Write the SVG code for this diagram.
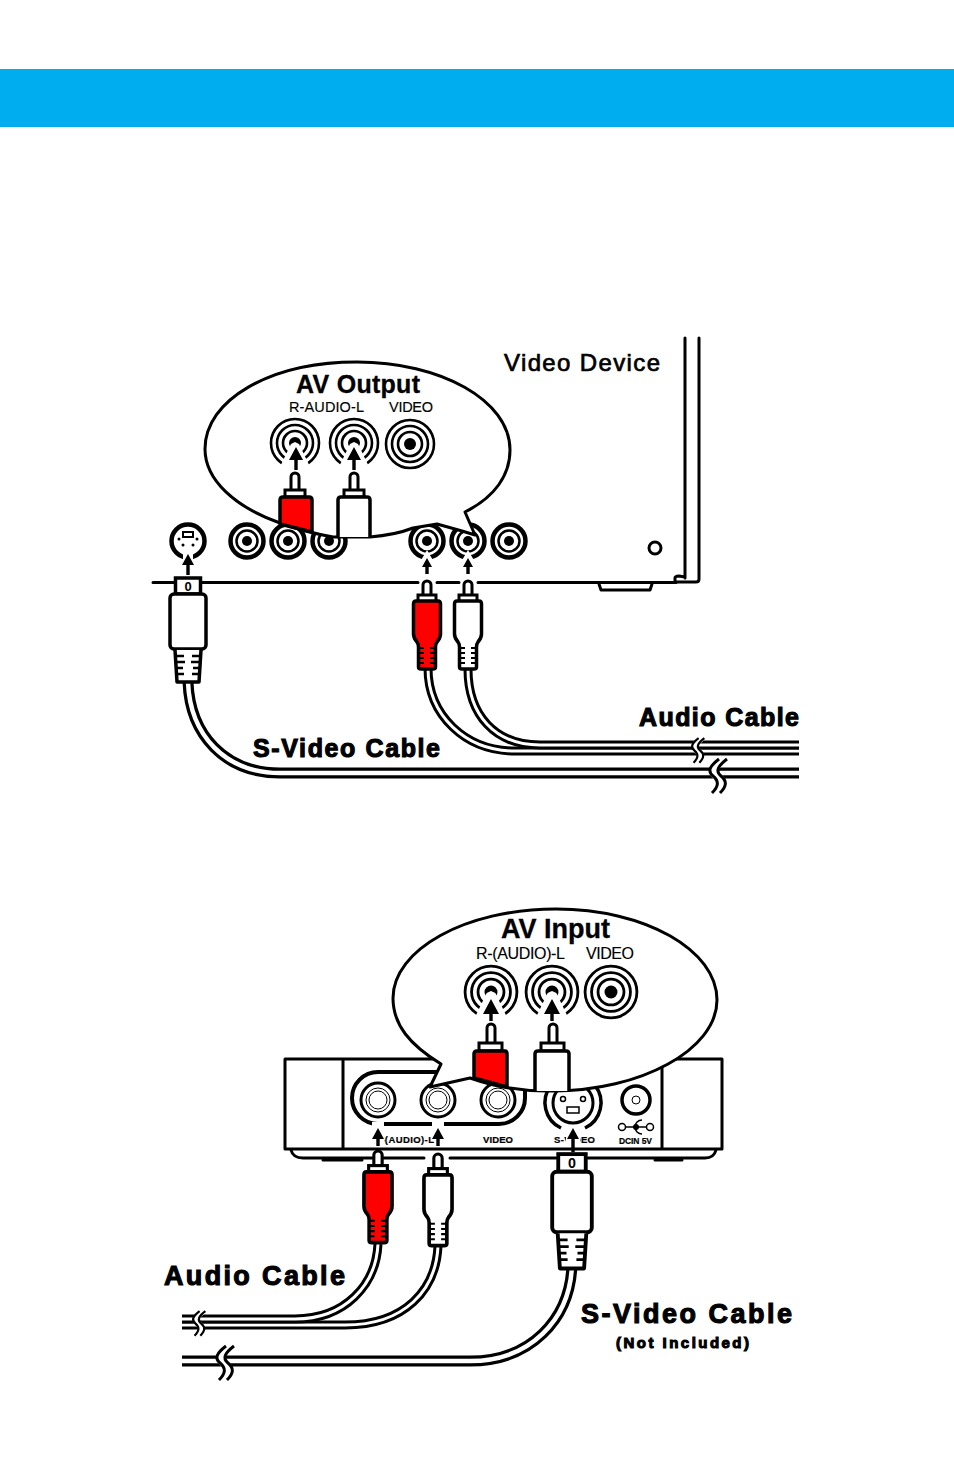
<svg xmlns="http://www.w3.org/2000/svg" xmlns:xlink="http://www.w3.org/1999/xlink" width="954" height="1474" viewBox="0 0 954 1474">
<style>
text{font-family:"Liberation Sans",Arial,sans-serif;fill:#000}
.heavy{font-weight:bold;stroke:#000;stroke-width:1.1px}
.title{font-weight:bold;stroke:#000;stroke-width:.3px}
.name{stroke:#000;stroke-width:.7px}
.port{stroke:#000;stroke-width:.15px}
.mini{font-weight:bold;font-size:9.500px;stroke:#000;stroke-width:.2px}
.ln{fill:none;stroke:#000;stroke-width:3;stroke-linecap:round;stroke-linejoin:round}
.cable-o{fill:none;stroke:#000}
.cable-i{fill:none;stroke:#fff}
.bubble{fill:#fff;stroke:#000;stroke-width:3;stroke-linejoin:round}
.ring{fill:none;stroke:#000}
.arrow{fill:none;stroke:#000;stroke-width:3.400}
.arrowhead{fill:#000}
.red{fill:#f00}
.white{fill:#fff}
</style>
<defs>
<!-- RCA plug, tip at the origin -->
<g id="rca">
<path d="M-4,15V5a4,4 0 0 1 8,0V15" fill="#fff" stroke="#000" stroke-width="3"/>
<rect x="-9" y="15" width="18" height="7" fill="#fff" stroke="#000" stroke-width="3"/>
<path d="M-11,21H11Q13.500,21 13.500,24V54Q13.500,58 10,62Q8.500,64 8.500,67V87Q8.500,89 6,89H-6Q-8.500,89 -8.500,87V67Q-8.500,64 -10,62Q-13.500,58 -13.500,54V24Q-13.500,21 -11,21Z" stroke="#000" stroke-width="3.500" stroke-linejoin="round"/>
<path d="M-8,68H-3M3,68H8M-8,73H-3M3,73H8M-8,78H-3M3,78H8M-8,83H-3M3,83H8" stroke="#000" stroke-width="2"/>
</g>
<!-- S-Video plug, top centre at the origin -->
<g id="svplug">
<rect x="-12.500" y="1" width="25" height="16" fill="#fff" stroke="#000" stroke-width="3.500"/>
<text x="0" y="14" text-anchor="middle" font-size="13" font-weight="bold">0</text>
<rect x="-18" y="17" width="36" height="55" rx="4" fill="#fff" stroke="#000" stroke-width="3.500"/>
<path d="M-13,73L-11,105H11L13,73" fill="#fff" stroke="#000" stroke-width="3.500" stroke-linejoin="round"/>
<path d="M-12,79H-4M4,79H12M-12,85H-3M3,85H12M-12,91H-5M5,91H12M-11,97H-4M4,97H11" stroke="#000" stroke-width="2.500"/>
</g>
<!-- Cable break mark -->
<g id="break">
<path d="M9,-15C0,-8 -3,-3 3,2C9,7 9,12 2,19" fill="none" stroke="#fff" stroke-width="9"/>
<path d="M5,-15C-4,-8 -7,-3 -1,2C5,7 5,12 -2,19M13,-15C4,-8 1,-3 7,2C13,7 13,12 6,19" fill="none" stroke="#000" stroke-width="3"/>
</g>
<!-- Jack on the panel, full rings -->
<g id="jack">
<circle r="16.500" class="ring" stroke-width="4.500"/>
<circle r="10.500" class="ring" stroke-width="2.500"/>
<circle r="5" fill="#000"/>
</g>
<!-- Enlarged jack, plain -->
<g id="bigjack">
<circle r="24" class="ring" stroke-width="2.600"/>
<circle r="18" class="ring" stroke-width="2.600"/>
<circle r="12" class="ring" stroke-width="2.600"/>
<circle r="6" fill="#000"/>
</g>
<!-- Enlarged jack with an opening for the arrow -->
<g id="bigjack-open">
<use xlink:href="#bigjack"/>
<path d="M0,-1L-4,1L-18,30H18L4,1Z" fill="#fff"/>
</g>
</defs>

<rect width="954" height="1474" fill="#fff"/>
<rect id="banner" x="0" y="69" width="954" height="58" fill="#00aeef"/>

<g id="video-device">
<path class="ln" d="M685,338V578M699,338V579Q699,582 696,582H675V578Q675,576 679,576L685,577"/>
<path class="ln" d="M153,582.500H174M201,582.500H418M437,582.500H459M478,582.500H676"/>
<path class="ln" stroke-width="2.500" d="M599,584L601,590H650L652,584"/>
<circle cx="655" cy="548" r="6" fill="#fff" stroke="#000" stroke-width="3"/>
<text class="name" x="504" y="371" font-size="24" textLength="156">Video Device</text>
</g>
<g id="device-jacks">
<g id="svideo-out" transform="translate(188,541)">
<circle r="16.500" class="ring" stroke-width="4.500"/>
<rect x="-5" y="-9" width="10" height="5" fill="none" stroke="#000" stroke-width="2"/>
<circle cx="-9" cy="-2" r="1.500"/><circle cx="9" cy="-2" r="1.500"/><circle cx="-5" cy="4" r="1.500"/><circle cx="5" cy="4" r="1.500"/>
<rect x="-5" y="10" width="10" height="10" fill="#fff"/>
</g>
<use xlink:href="#jack" x="247" y="541"/>
<use xlink:href="#jack" x="288" y="541"/>
<use xlink:href="#jack" x="329" y="541"/>
<use xlink:href="#jack" x="427" y="541"/>
<use xlink:href="#jack" x="468" y="541"/>
<use xlink:href="#jack" x="509" y="541"/>
<path d="M420,562L427,550L434,562ZM461,562L468,550L475,562Z" fill="#fff"/>
</g>

<g id="av-output">
<path class="bubble" d="M280,523C235,507 205,480 205,449C205,400 270,362 357,362C440,362 510,400 510,450C510,475 495,497 465,512L475,535L462,531L437,524L413,528Q395,535 370,537L333,537Q305,532 280,523Z"/>
<text class="title" x="296" y="393" font-size="25" textLength="124">AV Output</text>
<text class="port" x="289" y="412" font-size="14.500" textLength="75">R-AUDIO-L</text>
<text class="port" x="389" y="412" font-size="14.500" textLength="44">VIDEO</text>
<use xlink:href="#bigjack-open" x="295" y="443"/>
<use xlink:href="#bigjack-open" x="354" y="443"/>
<use xlink:href="#bigjack" x="410" y="444"/>
</g>

<g id="panel">
<path class="ln" d="M285,1059H722V1149H285ZM343,1059V1149M662,1059V1149"/>
<path class="ln" d="M291,1150Q293,1158 303,1158H372M384,1158H424M450,1158H556M588,1158H705Q714,1158 716,1150"/>
<path class="ln" d="M323,1160H362M655,1160H682"/>
<path d="M525,1085V1098A26,26 0 0 1 499,1124H378A26,26 0 0 1 378,1072H440" fill="none" stroke="#000" stroke-width="4"/>
<g fill="none" stroke="#000">
<circle cx="378" cy="1100" r="17" stroke-width="3"/><circle cx="378" cy="1100" r="12" stroke-width="1"/><circle cx="378" cy="1100" r="9" stroke-width="1"/>
<circle cx="438" cy="1100" r="17" stroke-width="3"/><circle cx="438" cy="1100" r="12" stroke-width="1"/><circle cx="438" cy="1100" r="9" stroke-width="1"/>
<circle cx="498" cy="1100" r="17" stroke-width="3"/><circle cx="498" cy="1100" r="12" stroke-width="1"/><circle cx="498" cy="1100" r="9" stroke-width="1"/>
<path d="M561,1128A28,28 0 1 1 585,1128" stroke-width="3.500"/>
<circle cx="573" cy="1103" r="20" stroke-width="3"/>
<rect x="567" y="1107" width="12" height="6" stroke-width="1.500"/>
<circle cx="563" cy="1099" r="2.500" stroke-width="1.500"/><circle cx="583" cy="1099" r="2.500" stroke-width="1.500"/>
<circle cx="636" cy="1100" r="14" stroke-width="3.500"/><circle cx="636" cy="1100" r="4" stroke-width="1"/>
<path d="M622,1127H650" stroke-width="1.500"/>
<circle cx="622" cy="1127" r="3.500" fill="#fff" stroke-width="1.500"/>
<circle cx="650" cy="1127" r="3.500" fill="#fff" stroke-width="1.500"/>
<path d="M642,1120A7,7 0 1 0 642,1134" stroke-width="1.500"/>
</g>
<circle cx="636" cy="1127" r="3" fill="#000"/>
<rect x="372" y="1122" width="12" height="6" fill="#fff"/>
<rect x="432" y="1122" width="12" height="6" fill="#fff"/>
<text class="mini" x="374" y="1143" textLength="60">R-(AUDIO)-L</text>
<text class="mini" x="483" y="1143" textLength="30">VIDEO</text>
<text class="mini" x="554" y="1143" textLength="41">S-VIDEO</text>
<text class="mini" x="619" y="1144" style="font-size:8.500px" textLength="33">DCIN 5V</text>
<!-- Clear bands beside the arrows that cross the printed labels -->
<rect x="372" y="1130" width="12" height="16" fill="#fff"/>
<rect x="566" y="1130" width="14" height="16" fill="#fff"/>
</g>

<g id="av-input">
<path class="bubble" d="M441,1064C410,1045 393,1025 393,998C393,950 465,909 556,909C645,909 717,950 717,1000C717,1050 640,1091 553,1091Q510,1092 470,1078L430,1087Z"/>
<text class="title" x="501" y="938" font-size="27" textLength="109">AV Input</text>
<text class="port" x="476" y="959" font-size="16" textLength="89">R-(AUDIO)-L</text>
<text class="port" x="586" y="959" font-size="16" textLength="48">VIDEO</text>
<g transform="translate(491,992) scale(1.080)"><use xlink:href="#bigjack-open"/></g>
<g transform="translate(552,992) scale(1.080)"><use xlink:href="#bigjack-open"/></g>
<g transform="translate(611,992) scale(1.080)"><use xlink:href="#bigjack"/></g>
</g>

<g id="connectors">
<!-- S-Video cable, upper device -->
<path class="cable-o" stroke-width="11" d="M188,682C190,735 225,773 280,773H799"/>
<path class="cable-i" stroke-width="4.500" d="M188,682C190,735 225,773 280,773H799"/>
<!-- Audio cables, upper device -->
<path class="cable-o" stroke-width="9" d="M428,668C428,715 465,751 515,751H799"/>
<path class="cable-i" stroke-width="3" d="M428,668C428,715 465,751 515,751H799"/>
<path class="cable-o" stroke-width="9" d="M468,669C468,715 495,745 540,745H799"/>
<path class="cable-i" stroke-width="3" d="M468,669C468,715 495,745 540,745H799"/>
<use xlink:href="#break" x="714" y="774"/>
<g transform="translate(695,749) scale(.72)"><use xlink:href="#break"/></g>
<!-- S-Video cable, lower device -->
<path class="cable-o" stroke-width="11" d="M572,1265C570,1320 530,1361 470,1361H182"/>
<path class="cable-i" stroke-width="4.500" d="M572,1265C570,1320 530,1361 470,1361H182"/>
<!-- Audio cables, lower device -->
<path class="cable-o" stroke-width="9" d="M438,1246C436,1290 405,1325 345,1325H182"/>
<path class="cable-i" stroke-width="3" d="M438,1246C436,1290 405,1325 345,1325H182"/>
<path class="cable-o" stroke-width="9" d="M378,1244C376,1285 345,1319 295,1319H182"/>
<path class="cable-i" stroke-width="3" d="M378,1244C376,1285 345,1319 295,1319H182"/>
<use xlink:href="#break" x="221" y="1361"/>
<g transform="translate(196,1322) scale(.72)"><use xlink:href="#break"/></g>
<!-- Insertion arrows -->
<path class="arrow" d="M188,575V562M427,574V565M468,574V565"/>
<path class="arrowhead" d="M182,565L188,554L194,565ZM422,567L427,558L432,567ZM463,567L468,558L473,567Z"/>
<path class="arrow" d="M296,470V458M354,470V458"/>
<path class="arrowhead" d="M289,460L296,447L303,460ZM347,460L354,447L361,460Z"/>
<path class="arrow" d="M491,1021V1012M552,1021V1012"/>
<path class="arrowhead" d="M483,1014L491,999L499,1014ZM544,1014L552,999L560,1014Z"/>
<path class="arrow" d="M378,1146V1136M438,1146V1136M573,1152V1136"/>
<path class="arrowhead" d="M372,1139L378,1128L384,1139ZM432,1139L438,1128L444,1139ZM567,1139L573,1128L579,1139Z"/>
</g>

<g id="plug-svideo-top"><use xlink:href="#svplug" x="188" y="577" fill="#fff"/></g>
<g id="plug-red-top"><use xlink:href="#rca" x="427" y="580" class="red"/></g>
<g id="plug-white-top"><use xlink:href="#rca" x="468" y="580" class="white"/></g>
<g id="plug-red-inset">
<path d="M291,490V477a4,4 0 0 1 8,0V490" fill="#fff" stroke="#000" stroke-width="3"/>
<rect x="285" y="490" width="20" height="7" fill="#fff" stroke="#000" stroke-width="3"/>
<path d="M280,524V500Q280,497 283,497H309Q312,497 312,500V532Z" fill="#f00" stroke="#000" stroke-width="3.500" stroke-linejoin="round"/>
</g>
<g id="plug-white-inset">
<path d="M350,490V477a4,4 0 0 1 8,0V490" fill="#fff" stroke="#000" stroke-width="3"/>
<rect x="344" y="490" width="20" height="7" fill="#fff" stroke="#000" stroke-width="3"/>
<path d="M338,537V500Q338,497 341,497H367Q370,497 370,500V537" fill="#fff" stroke="#000" stroke-width="3.500" stroke-linejoin="round"/>
</g>
<g id="plug-red-lower"><g transform="translate(378,1150) scale(1.040)"><use xlink:href="#rca" class="red"/></g></g>
<g id="plug-white-lower"><g transform="translate(438,1153) scale(1.040)"><use xlink:href="#rca" class="white"/></g></g>
<g id="plug-svideo-lower"><g transform="translate(572,1153) scale(1.100)"><use xlink:href="#svplug" fill="#fff"/></g></g>
<g id="plug-red-inset-2">
<path d="M487,1042V1028a4,4 0 0 1 8,0V1042" fill="#fff" stroke="#000" stroke-width="3"/>
<rect x="479" y="1043" width="23" height="8" fill="#fff" stroke="#000" stroke-width="3"/>
<path d="M474,1078V1054Q474,1051 477,1051H505Q507,1051 507,1054V1087Z" fill="#f00" stroke="#000" stroke-width="3.500" stroke-linejoin="round"/>
</g>
<g id="plug-white-inset-2">
<path d="M549,1042V1028a4,4 0 0 1 8,0V1042" fill="#fff" stroke="#000" stroke-width="3"/>
<rect x="541" y="1043" width="23" height="8" fill="#fff" stroke="#000" stroke-width="3"/>
<path d="M535,1091V1054Q535,1051 538,1051H566Q569,1051 569,1054V1091" fill="#fff" stroke="#000" stroke-width="3.500" stroke-linejoin="round"/>
</g>

<g id="labels">
<text class="heavy" x="253" y="757" font-size="25" textLength="187">S-Video Cable</text>
<text class="heavy" x="639" y="726" font-size="25" textLength="160">Audio Cable</text>
<text class="heavy" x="164" y="1285" font-size="27" textLength="181">Audio Cable</text>
<text class="heavy" x="581" y="1323" font-size="27" textLength="211">S-Video Cable</text>
<text class="heavy" x="616" y="1348" font-size="15" stroke-width=".5" textLength="133">(Not Included)</text>
</g>
</svg>
